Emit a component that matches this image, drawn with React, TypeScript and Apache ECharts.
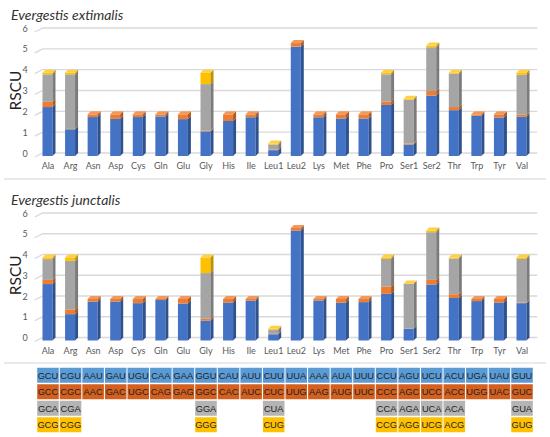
import React, { useEffect, useRef } from "react";
import * as echarts from "echarts";

const categories = ["Ala","Arg","Asn","Asp","Cys","Gln","Glu","Gly","His","Ile","Leu1","Leu2","Lys","Met","Phe","Pro","Ser1","Ser2","Thr","Trp","Tyr","Val"];
const yTicks = [0, 1, 2, 3, 4, 5, 6];

const extU = [2.35,1.28,1.87,1.78,1.87,1.9,1.77,1.18,1.68,1.86,0.28,5.25,1.86,1.8,1.8,2.45,0.55,2.9,2.2,1.93,1.85,1.88];
const extC = [0.25,0.02,0.13,0.22,0.13,0.1,0.23,0.03,0.32,0.14,0.03,0.17,0.14,0.2,0.2,0.17,0.05,0.22,0.15,0.07,0.15,0.1];
const extA = [1.32,2.62,0,0,0,0,0,2.24,0,0,0.24,0,0,0,0,1.3,2.1,2.1,1.6,0,0,1.92];
const extG = [0.08,0.08,0,0,0,0,0,0.55,0,0,0.05,0,0,0,0,0.08,0.05,0.08,0.05,0,0,0.1];

const junU = [2.72,1.27,1.87,1.88,1.8,1.95,1.78,0.95,1.83,1.92,0.3,5.3,1.93,1.82,1.85,2.25,0.57,2.7,2.05,1.9,1.83,1.8];
const junC = [0.2,0.23,0.13,0.12,0.2,0.05,0.22,0.1,0.17,0.08,0.02,0.12,0.07,0.18,0.15,0.35,0.01,0.22,0.18,0.1,0.17,0.03];
const junA = [1.0,2.34,0,0,0,0,0,2.2,0,0,0.2,0,0,0,0,1.33,2.15,2.3,1.72,0,0,2.1];
const junG = [0.08,0.16,0,0,0,0,0,0.75,0,0,0.05,0,0,0,0,0.07,0.02,0.08,0.05,0,0,0.07];

const codonRow1 = ["GCU","CGU","AAU","GAU","UGU","CAA","GAA","GGU","CAU","AUU","CUU","UUA","AAA","AUA","UUU","CCU","AGU","UCU","ACU","UGA","UAU","GUU"];
const codonRow2 = ["GCC","CGC","AAC","GAC","UGC","CAG","GAG","GGC","CAC","AUC","CUC","UUG","AAG","AUG","UUC","CCC","AGC","UCC","ACC","UGG","UAC","GUC"];
const codonRow3 = ["GCA","CGA","","","","","","GGA","","","CUA","","","","","CCA","AGA","UCA","ACA","","","GUA"];
const codonRow4 = ["GCG","CGG","","","","","","GGG","","","CUG","","","","","CCG","AGG","UCG","ACG","","","GUG"];

const FRONT = ["#4472C4", "#ED7D31", "#A5A5A5", "#FFC000"];
const SIDE = ["#2F528F", "#B0581F", "#7B7B7B", "#BF9000"];
const TOP = ["#6C8ED2", "#F2985C", "#BDBDBD", "#FFD044"];
const CELL = ["#5B9BD5", "#D3601F", "#B4B4B4", "#FFC000"];

const LABEL_FONT = "Lato";

export default function App() {
  const ref = useRef<HTMLDivElement>(null);
  useEffect(() => {
    document.body.style.margin = "0";
    const chart = echarts.init(ref.current!, undefined, { renderer: "svg" });
    const D = 3;

    const barRender = (params: any, api: any) => {
      const i = api.value(0);
      const vals = [api.value(1), api.value(2), api.value(3), api.value(4)];
      const cx = api.coord([i, 0])[0];
      const children: any[] = [];
      let cum = 0;
      let lastY = 0;
      let lastK = 0;
      const xl = cx - 5.5;
      const xr = cx + 4.5;
      for (let k = 0; k < 4; k++) {
        const v = vals[k];
        if (!(v > 0)) continue;
        const lo = cum;
        const hi = cum + v;
        cum = hi;
        const y0 = api.coord([i, lo])[1];
        const y1 = api.coord([i, hi])[1];
        children.push({
          type: "rect",
          shape: { x: xl, y: y1 + D, width: xr - xl, height: y0 - y1 },
          style: { fill: FRONT[k] },
        });
        children.push({
          type: "polygon",
          shape: { points: [[xr, y1 + D], [xr + D, y1], [xr + D, y0], [xr, y0 + D]] },
          style: { fill: SIDE[k] },
        });
        lastY = y1;
        lastK = k;
      }
      children.push({
        type: "polygon",
        shape: { points: [[xl, lastY + D], [xl + D, lastY], [xr + D, lastY], [xr, lastY + D]] },
        style: { fill: TOP[lastK] },
      });
      return { type: "group", children };
    };

    const gridRender = (params: any, api: any) => {
      const y = api.coord([0, api.value(1)])[1];
      const cs = params.coordSys;
      return {
        type: "polyline",
        shape: { points: [[cs.x - 2, y + 4], [cs.x + 6, y], [cs.x + cs.width + 4, y]] },
        style: { stroke: "#D9D9D9", lineWidth: 1.3, fill: null },
      };
    };

    const rows = [codonRow1, codonRow2, codonRow3, codonRow4];
    const cellData: any[] = [];
    rows.forEach((row, r) => {
      row.forEach((codon, c) => {
        if (codon) cellData.push({ value: [c, r], codon, color: CELL[r] });
      });
    });

    const cellRender = (params: any, api: any) => {
      const item = cellData[params.dataIndex];
      const c = api.coord([api.value(0), api.value(1)]);
      const s = api.size([1, 1]);
      return {
        type: "group",
        children: [
          {
            type: "rect",
            shape: { x: c[0] - s[0] / 2 + 0.5, y: c[1] - s[1] / 2 + 0.75, width: s[0] - 1, height: s[1] - 1.5 },
            style: { fill: item.color },
          },
          {
            type: "text",
            style: {
              text: item.codon,
              x: c[0],
              y: c[1] + 0.5,
              align: "center",
              verticalAlign: "middle",
              textAlign: "center",
              textVerticalAlign: "middle",
              fontSize: 9.3,
              fontFamily: "Liberation Sans",
              fill: "#222",
            },
          },
        ],
      };
    };

    const gridPos = { left: 36.7, right: 16.7, containLabel: false, outerBoundsMode: "none" };
    const xAxisBase = (gi: number) => ({
      type: "category",
      gridIndex: gi,
      data: categories,
      axisLine: { show: false },
      axisTick: { show: false },
      axisLabel: { fontSize: 9, color: "#595959", margin: 8, fontFamily: LABEL_FONT, interval: 0 },
    });
    const yAxisBase = (gi: number) => ({
      type: "value",
      gridIndex: gi,
      min: 0,
      max: 6,
      interval: 1,
      name: "RSCU",
      nameLocation: "middle",
      nameGap: 14,
      nameMoveOverlap: false,
      nameRotate: 90,
      nameTextStyle: { fontSize: 15.5, color: "#222", fontFamily: LABEL_FONT },
      splitLine: { show: false },
      axisLine: { show: false },
      axisTick: { show: false },
      axisLabel: { fontSize: 9, color: "#595959", margin: 9, fontFamily: LABEL_FONT },
    });

    const mk = (u: number[], c: number[], a: number[], g: number[]) =>
      categories.map((_, i) => [i, u[i], c[i], a[i], g[i]]);

    chart.setOption({
      animation: false,
      title: [
        { text: "Evergestis extimalis", left: 6, top: 2, textStyle: { fontStyle: "italic", fontWeight: "normal", fontSize: 14, color: "#333", fontFamily: LABEL_FONT } },
        { text: "Evergestis junctalis", left: 6, top: 187, textStyle: { fontStyle: "italic", fontWeight: "normal", fontSize: 14, color: "#333", fontFamily: LABEL_FONT } },
      ],
      graphic: [
        { type: "line", shape: { x1: 4, y1: 179, x2: 546, y2: 179 }, style: { stroke: "#E3E3E3", lineWidth: 1.5 } },
        { type: "line", shape: { x1: 4, y1: 363, x2: 546, y2: 363 }, style: { stroke: "#E3E3E3", lineWidth: 1.5 } },
      ],
      grid: [
        { ...gridPos, top: 28, height: 125 },
        { ...gridPos, top: 213, height: 124.5 },
        { ...gridPos, top: 367, height: 66 },
      ],
      xAxis: [
        xAxisBase(0),
        xAxisBase(1),
        { type: "category", gridIndex: 2, data: categories, show: false },
      ],
      yAxis: [
        yAxisBase(0),
        yAxisBase(1),
        { type: "category", gridIndex: 2, data: ["U", "C", "A", "G"], inverse: true, show: false },
      ],
      series: [
        { type: "custom", name: "grid1", xAxisIndex: 0, yAxisIndex: 0, z: 1, silent: true, data: yTicks.map((v) => [0, v]), encode: { x: 0, y: 1 }, renderItem: gridRender },
        { type: "custom", name: "grid2", xAxisIndex: 1, yAxisIndex: 1, z: 1, silent: true, data: yTicks.map((v) => [0, v]), encode: { x: 0, y: 1 }, renderItem: gridRender },
        { type: "custom", name: "Evergestis extimalis", xAxisIndex: 0, yAxisIndex: 0, z: 2, data: mk(extU, extC, extA, extG), encode: { x: 0, y: 1 }, renderItem: barRender },
        { type: "custom", name: "Evergestis junctalis", xAxisIndex: 1, yAxisIndex: 1, z: 2, data: mk(junU, junC, junA, junG), encode: { x: 0, y: 1 }, renderItem: barRender },
        { type: "custom", name: "codons", xAxisIndex: 2, yAxisIndex: 2, z: 2, data: cellData.map((d) => d.value), encode: { x: 0, y: 1 }, renderItem: cellRender },
      ],
    });
    return () => chart.dispose();
  }, []);
  return <div ref={ref} style={{ width: 550, height: 437 }} />;
}
